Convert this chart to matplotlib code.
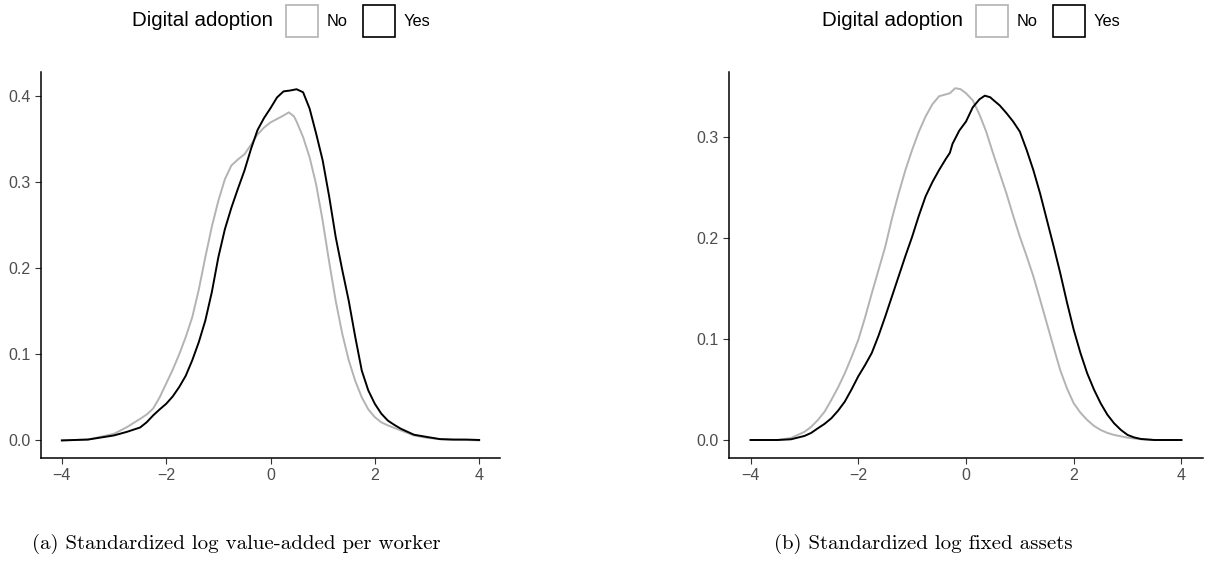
import numpy as np
import matplotlib
matplotlib.use('Agg')
import matplotlib.pyplot as plt
from matplotlib.patches import Rectangle

# Density curves (x: standardized value, y: density)
# (a) value-added per worker
va_yes_x = [-4.0, -3.5, -3.0, -2.75, -2.5, -2.375, -2.25, -2.125, -2.0, -1.875, -1.75, -1.625,
            -1.5, -1.375, -1.25, -1.125, -1.0, -0.875, -0.75, -0.625, -0.5, -0.375, -0.25, -0.125,
            0.0, 0.125, 0.25, 0.375, 0.5, 0.625, 0.75, 0.875, 1.0, 1.125, 1.25, 1.375, 1.5, 1.625,
            1.75, 1.875, 2.0, 2.125, 2.25, 2.375, 2.5, 2.75, 3.0, 3.25, 3.5, 3.75, 4.0]
va_yes = [0.0, 0.001, 0.0058, 0.010, 0.015, 0.021, 0.029, 0.036, 0.0425, 0.051, 0.062, 0.075,
          0.093, 0.114, 0.139, 0.172, 0.2125, 0.245, 0.27, 0.292, 0.313, 0.338, 0.36, 0.374,
          0.3855, 0.398, 0.405, 0.406, 0.4075, 0.404, 0.385, 0.356, 0.325, 0.283, 0.236, 0.198, 0.162, 0.12,
          0.081, 0.058, 0.0425, 0.031, 0.023, 0.018, 0.0135, 0.0066, 0.004, 0.0015, 0.001, 0.001, 0.0005]

va_no_x = [-4.0, -3.5, -3.0, -2.75, -2.5, -2.375, -2.25, -2.125, -2.0, -1.875, -1.75, -1.625,
           -1.5, -1.375, -1.25, -1.125, -1.0, -0.875, -0.75, -0.625, -0.5, -0.375, -0.25, -0.125,
           0.0, 0.125, 0.25, 0.35, 0.45, 0.5, 0.625, 0.75, 0.875, 1.0, 1.125, 1.25, 1.375, 1.5, 1.625,
           1.75, 1.875, 2.0, 2.125, 2.25, 2.5, 2.75, 3.0, 3.25, 3.5, 3.75, 4.0]
va_no = [0.0, 0.001, 0.0077, 0.0155, 0.025, 0.030, 0.037, 0.05, 0.066, 0.082, 0.10, 0.12,
         0.143, 0.175, 0.2125, 0.248, 0.278, 0.303, 0.319, 0.326, 0.332, 0.343, 0.355, 0.363,
         0.369, 0.373, 0.377, 0.3807, 0.376, 0.37, 0.352, 0.3285, 0.297, 0.255, 0.207, 0.162, 0.124, 0.093, 0.069,
         0.050, 0.036, 0.027, 0.021, 0.0174, 0.0116, 0.0058, 0.003, 0.0015, 0.0008, 0.0005, 0.0]

# (b) fixed assets
fa_yes_x = [-4.0, -3.5, -3.25, -3.0, -2.875, -2.75, -2.625, -2.5, -2.375, -2.25, -2.125, -2.0,
            -1.875, -1.75, -1.625, -1.5, -1.375, -1.25, -1.125, -1.0, -0.875, -0.75, -0.625, -0.5,
            -0.375, -0.3, -0.25, -0.125, 0.0, 0.125, 0.25, 0.35, 0.45, 0.5, 0.625, 0.75, 0.875, 1.0,
            1.125, 1.25, 1.375, 1.5, 1.625, 1.75, 1.875, 2.0, 2.125, 2.25, 2.375, 2.5, 2.625, 2.75,
            2.875, 3.0, 3.125, 3.25, 3.5, 3.75, 4.0]
fa_yes = [0.0, 0.0, 0.0007, 0.004, 0.007, 0.0116, 0.016, 0.0215, 0.029, 0.038, 0.05, 0.063,
          0.074, 0.086, 0.103, 0.122, 0.142, 0.162, 0.182, 0.201, 0.222, 0.241, 0.255, 0.267,
          0.278, 0.284, 0.293, 0.306, 0.315, 0.329, 0.337, 0.3406, 0.339, 0.3366, 0.331, 0.3234, 0.315, 0.305,
          0.287, 0.267, 0.244, 0.218, 0.192, 0.165, 0.136, 0.109, 0.086, 0.066, 0.05, 0.0363, 0.025, 0.0165,
          0.01, 0.005, 0.0025, 0.001, 0.0, 0.0, 0.0]

fa_no_x = [-4.0, -3.5, -3.25, -3.0, -2.875, -2.75, -2.625, -2.5, -2.375, -2.25, -2.125, -2.0,
           -1.875, -1.75, -1.625, -1.5, -1.375, -1.25, -1.125, -1.0, -0.875, -0.75, -0.625, -0.5,
           -0.4, -0.3, -0.2, -0.1, 0.0, 0.125, 0.25, 0.375, 0.5, 0.625, 0.75, 0.875, 1.0,
           1.125, 1.25, 1.375, 1.5, 1.625, 1.75, 1.875, 2.0, 2.125, 2.25, 2.375, 2.5, 2.625, 2.75,
           3.0, 3.25, 3.5, 3.75, 4.0]
fa_no = [0.0, 0.0, 0.002, 0.008, 0.013, 0.0198, 0.028, 0.0396, 0.052, 0.066, 0.082, 0.099,
         0.121, 0.145, 0.168, 0.191, 0.219, 0.244, 0.267, 0.287, 0.305, 0.320, 0.332, 0.340,
         0.3415, 0.343, 0.348, 0.347, 0.343, 0.336, 0.322, 0.305, 0.284, 0.264, 0.244, 0.222, 0.201,
         0.182, 0.162, 0.139, 0.1155, 0.092, 0.069, 0.051, 0.0363, 0.027, 0.0198, 0.014, 0.0099, 0.007, 0.005,
         0.0023, 0.0007, 0.0, 0.0, 0.0]

captions = ['(a) Standardized log value-added per worker', '(b) Standardized log fixed assets']
groups = ['No', 'Yes']
colors = {'No': '#b3b3b3', 'Yes': 'black'}

W, H = 1223, 567
plt.rcParams['font.family'] = ['Liberation Sans', 'DejaVu Sans']


def fx(px):
    return px / W


def fy(py):
    return (H - py) / H


def style_axes(ax, yticks):
    for s in ['top', 'right']:
        ax.spines[s].set_visible(False)
    for s in ['left', 'bottom']:
        ax.spines[s].set_linewidth(1.1)
    ax.set_xlim(-4.4, 4.4)
    ax.set_xticks([-4, -2, 0, 2, 4])
    ax.set_yticks(yticks)
    ax.yaxis.set_major_formatter(plt.FormatStrFormatter('%.1f'))
    ax.tick_params(colors='#333333', labelcolor='#4d4d4d', labelsize=11.5, length=4, width=0.8)


def draw_legend(fig, box_x, y_top=5, size=32):
    fig.text(fx(box_x - 13), fy(y_top + size / 2), 'Digital adoption', fontsize=14.8,
             ha='right', va='center')
    x = box_x
    for g in groups:
        fig.add_artist(Rectangle((fx(x), fy(y_top + size)), size / W, size / H,
                                 transform=fig.transFigure, fill=False,
                                 edgecolor=colors[g], linewidth=1.2))
        fig.text(fx(x + size + 9), fy(y_top + size / 2), g, fontsize=11.8,
                 ha='left', va='center')
        x += 77


def main():
    fig = plt.figure(figsize=(W / 100, H / 100), dpi=100)

    ax1 = fig.add_axes([fx(41), fy(458), (500 - 41) / W, (458 - 72) / H])
    ax1.plot(va_no_x, va_no, color=colors['No'], linewidth=1.4, solid_joinstyle='round')
    ax1.plot(va_yes_x, va_yes, color=colors['Yes'], linewidth=1.4, solid_joinstyle='round')
    style_axes(ax1, [0.0, 0.1, 0.2, 0.3, 0.4])
    ax1.set_ylim(-0.0204, 0.4275)

    ax2 = fig.add_axes([fx(729), fy(458), (1203 - 729) / W, (458 - 72) / H])
    ax2.plot(fa_no_x, fa_no, color=colors['No'], linewidth=1.4, solid_joinstyle='round')
    ax2.plot(fa_yes_x, fa_yes, color=colors['Yes'], linewidth=1.4, solid_joinstyle='round')
    style_axes(ax2, [0.0, 0.1, 0.2, 0.3])
    ax2.set_ylim(-0.0178, 0.364)

    draw_legend(fig, 286)
    draw_legend(fig, 976)

    fig.text(fx(32), fy(544), captions[0], fontfamily='cmr10', fontsize=15, va='center')
    fig.text(fx(774), fy(544), captions[1], fontfamily='cmr10', fontsize=15, va='center')

    fig.savefig('out.png', dpi=100)


if __name__ == "__main__":
    main()
